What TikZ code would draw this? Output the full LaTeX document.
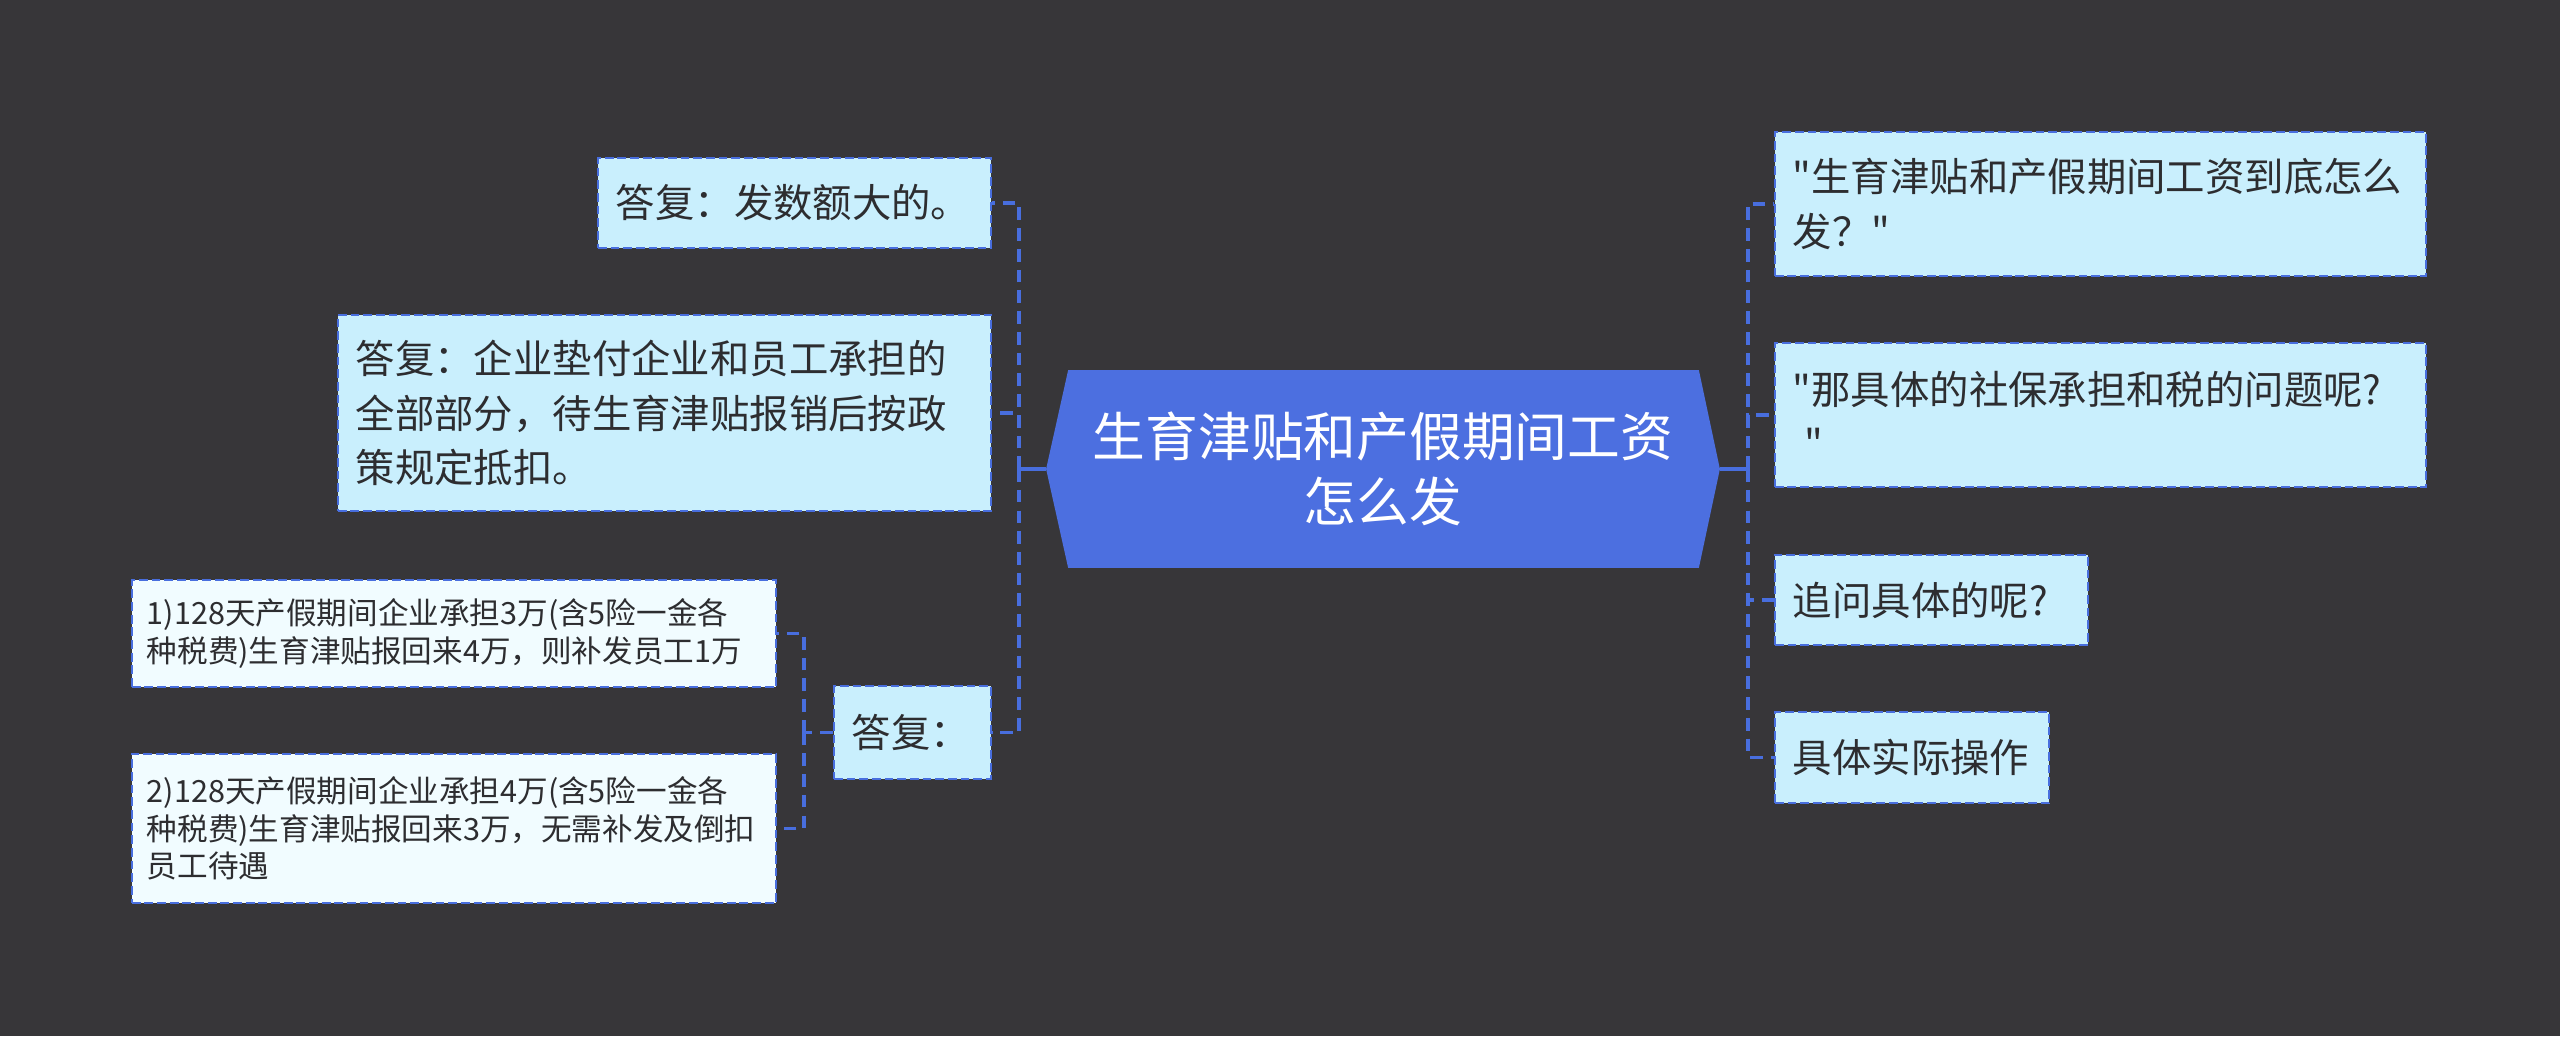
\documentclass[tikz,border=0pt]{standalone}
\usepackage{fontspec}
\setmainfont{Noto Sans CJK SC}[Ligatures=TeXOff]
\usepackage{xcolor}
\definecolor{canvasgray}{RGB}{55, 54, 57}
\definecolor{hubblue}{RGB}{76, 111, 224}
\definecolor{linkblue}{RGB}{72, 110, 222}
\definecolor{cardcyan}{RGB}{201, 239, 253}
\definecolor{cardwhite}{RGB}{241, 252, 255}
\definecolor{inkgray}{RGB}{45, 45, 48}
\usepackage{tikz}
\usetikzlibrary{positioning, backgrounds}

\tikzset{
  card/.style={draw=linkblue, line width=0.55pt, dash pattern=on 2.5pt off 1.1pt,
    fill=cardcyan, text=inkgray, align=left, inner xsep=0.18cm, inner ysep=0pt,
    font=\fontsize{11.2}{15.4}\selectfont},
  leafcard/.style={card, fill=cardwhite, inner xsep=0.15cm,
    font=\fontsize{8.7}{10.7}\selectfont},
  link/.style={linkblue, line width=1pt, dash pattern=on 3.6pt off 2.3pt},
  stem/.style={linkblue, line width=1pt},
}

\begin{document}
\begin{tikzpicture}[x=0.01cm, y=-0.01cm]
    \node[text=white, align=center, inner sep=0pt, minimum width=6.72cm, minimum height=1.96cm,
      font=\fontsize{15}{18.5}\selectfont] (core) at (1383, 469) {生育津贴和产假期间工资\\怎么发};
    \begin{scope}[on background layer]
      \fill[canvasgray] (0, 0) rectangle (2560, 1036);
      \fill[hubblue] (core.west) -- ([xshift=0.22cm]core.north west) -- ([xshift=-0.21cm]core.north east)
        -- (core.east) -- ([xshift=-0.21cm]core.south east) -- ([xshift=0.22cm]core.south west) -- cycle;
    \end{scope}

    \node[card, text width=3.57cm, minimum height=0.90cm] (replyBig) at (794.5, 203) {答复：发数额大的。};
    \node[card, text width=6.17cm, minimum height=1.96cm] (replyAdvance) at (664.5, 413)
      {答复：企业垫付企业和员工承担的\\全部部分，待生育津贴报销后按政\\策规定抵扣。};
    \node[card, text width=1.21cm, minimum height=0.93cm] (replyCase) at (912.5, 732.5) {答复：};
    \node[leafcard, text width=6.14cm, minimum height=1.07cm] (caseOne) at (454, 633.5)
      {1)128天产假期间企业承担3万(含5险一金各\\种税费)生育津贴报回来4万，则补发员工1万};
    \node[leafcard, text width=6.14cm, minimum height=1.49cm] (caseTwo) at (454, 828.5)
      {2)128天产假期间企业承担4万(含5险一金各\\种税费)生育津贴报回来3万，无需补发及倒扣\\员工待遇};

    \node[card, text width=6.15cm, minimum height=1.44cm] (askHow) at (2100.5, 204)
      {"生育津贴和产假期间工资到底怎么\\发？"};
    \node[card, text width=6.15cm, minimum height=1.44cm] (askTax) at (2100.5, 415)
      {"那具体的社保承担和税的问题呢?\\\hspace*{0.3em}"};
    \node[card, text width=2.77cm, minimum height=0.90cm] (askMore) at (1931.5, 600) {追问具体的呢?};
    \node[card, text width=2.38cm, minimum height=0.91cm] (askPractice) at (1912, 757.5) {具体实际操作};

    \draw[stem] (core.west) -- ++(-27, 0) coordinate (leftHub);
    \draw[link] (leftHub) |- (replyBig.east);
    \draw[link] (leftHub) |- (replyAdvance.east);
    \draw[link] (leftHub) |- (replyCase.east);
    \draw[link] (replyCase.west) -- ++(-29, 0) coordinate (caseHub);
    \draw[link] (caseHub) |- (caseOne.east);
    \draw[link] (caseHub) |- (caseTwo.east);

    \draw[stem] (core.east) -- ++(28, 0) coordinate (rightHub);
    \draw[link] (rightHub) |- (askHow.west);
    \draw[link] (rightHub) |- (askTax.west);
    \draw[link] (rightHub) |- (askMore.west);
    \draw[link] (rightHub) |- (askPractice.west);
\end{tikzpicture}
\end{document}
